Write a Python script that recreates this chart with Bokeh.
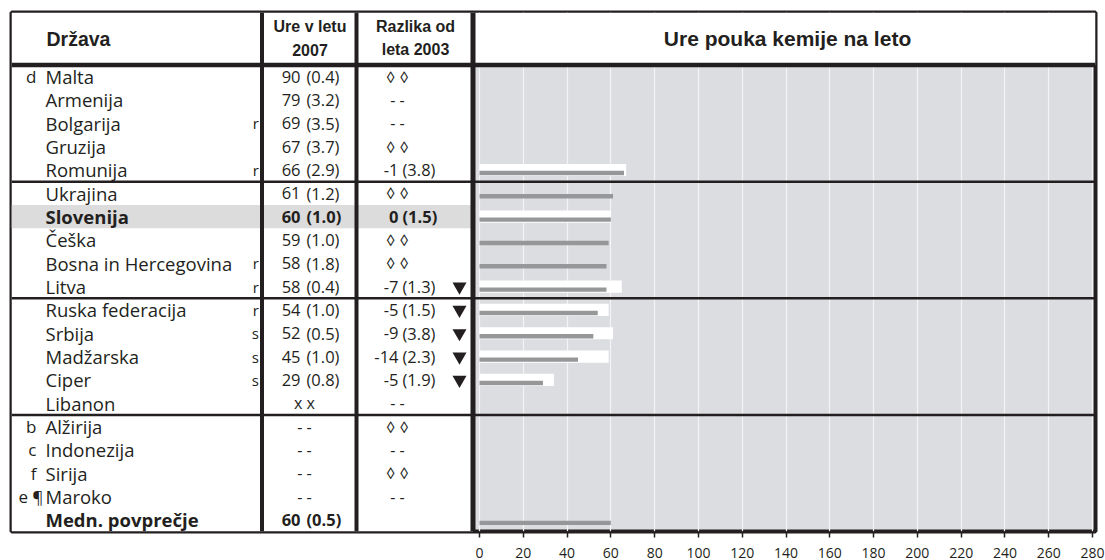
from bokeh.plotting import figure
from bokeh.models import Range1d, FixedTicker, ColumnDataSource
from bokeh.core.properties import value, field
from bokeh.embed import file_html
from bokeh.resources import INLINE

# ---------------- data ----------------
countries = ["Malta", "Armenija", "Bolgarija", "Gruzija", "Romunija",
             "Ukrajina", "Slovenija", "Češka", "Bosna in Hercegovina", "Litva",
             "Ruska federacija", "Srbija", "Madžarska", "Ciper", "Libanon",
             "Alžirija", "Indonezija", "Sirija", "Maroko", "Medn. povprečje"]
footnotes = ["d", "", "", "", "", "", "", "", "", "", "", "", "", "", "",
             "b", "c", "f", "e ¶", ""]
flags = ["", "", "r", "", "r", "", "", "", "r", "r", "r", "s", "s", "s", "",
         "", "", "", "", ""]
hours_2007 = [90, 79, 69, 67, 66, 61, 60, 59, 58, 58, 54, 52, 45, 29, None,
              None, None, None, None, 60]
hours_se = [0.4, 3.2, 3.5, 3.7, 2.9, 1.2, 1.0, 1.0, 1.8, 0.4, 1.0, 0.5, 1.0, 0.8, None,
            None, None, None, None, 0.5]
hours_missing = ["", "", "", "", "", "", "", "", "", "", "", "", "", "", "x x",
                 "- -", "- -", "- -", "- -", ""]
diff_2003 = [None, None, None, None, -1, None, 0, None, None, -7, -5, -9, -14, -5, None,
             None, None, None, None, None]
diff_se = [None, None, None, None, 3.8, None, 1.5, None, None, 1.3, 1.5, 3.8, 2.3, 1.9, None,
           None, None, None, None, None]
diff_symbol = ["◊ ◊", "- -", "- -", "◊ ◊", "", "◊ ◊", "", "◊ ◊", "◊ ◊", "", "", "", "", "", "- -",
               "◊ ◊", "- -", "◊ ◊", "- -", ""]
significant_drop = [False, False, False, False, False, False, False, False, False, True,
                    True, True, True, True, False, False, False, False, False, False]
bar_2007 = [None, None, None, None, 66, 61, 60, 59, 58, 58, 54, 52, 45, 29, None,
            None, None, None, None, 60]
bold_rows = ["Slovenija", "Medn. povprečje"]
highlight_row = "Slovenija"
group_breaks = [4.5, 9.5, 14.5]
x_ticks = [0, 20, 40, 60, 80, 100, 120, 140, 160, 180, 200, 220, 240, 260, 280]

header_country = "Država"
header_hours = ["Ure v letu", "2007"]
header_diff = ["Razlika od", "leta 2003"]
chart_title = "Ure pouka kemije na leto"

# ---------------- layout ----------------
W, H = 1105, 560
BL, BR, BT, BB = 11, 10, 12, 29
FRAME_W = W - BL - BR
FRAME_H = H - BT - BB
PAGE_LEFT = BL              # x of frame left
PAGE_TOP = BT               # y of frame top
ZERO_PX = 479               # x of value 0
END_PX = 1092               # x of value 280
S = (END_PX - ZERO_PX) / 280.0
X_START = (PAGE_LEFT - ZERO_PX) / S
X_END = (PAGE_LEFT + FRAME_W - ZERO_PX) / S

N = len(countries)
HEADER_PX = 52.5
ROW_H = (FRAME_H - HEADER_PX) / N
Y_TOP = -0.5 - HEADER_PX / ROW_H
Y_BOT = N - 0.5


def px(x):
    return (x - ZERO_PX) / S


def py(y):
    return Y_TOP + (y - PAGE_TOP) / ROW_H


INK = "#231f20"
PANEL = "#dcdde0"
BODY_FONT = value("Open Sans")
HEAD_FONT = value("Liberation Sans")

p = figure(width=W, height=H, output_backend="svg", toolbar_location=None,
           x_range=Range1d(X_START, X_END), y_range=Range1d(Y_BOT, Y_TOP),
           min_border_left=BL, min_border_right=BR, min_border_top=BT,
           min_border_bottom=BB, y_axis_location=None)
p.background_fill_color = PANEL
p.border_fill_color = "white"
p.outline_line_color = INK
p.outline_line_width = 4
p.ygrid.visible = False
p.xgrid.ticker = FixedTicker(ticks=x_ticks)
p.xgrid.grid_line_color = "#f4f4f5"
p.xgrid.grid_line_width = 1.2

ax = p.xaxis[0]
ax.ticker = FixedTicker(ticks=x_ticks)
ax.axis_line_color = None
ax.major_tick_in = 0
ax.major_tick_out = 6
ax.major_tick_line_color = INK
ax.major_tick_line_width = 1.5
ax.minor_tick_line_color = None
ax.major_label_text_font = "Open Sans"
ax.major_label_text_font_size = "14px"
ax.major_label_text_color = INK
ax.major_label_text_line_height = 0.6
ax.major_label_standoff = 10

DIV_CHART = 472.5
rows = list(range(N))

# white areas (header strip and table)
p.quad(left=[X_START, X_START], right=[X_END, px(DIV_CHART)],
       bottom=[-0.5, Y_BOT], top=[Y_TOP, -0.5], fill_color="white", line_color=None)
# highlighted row
hi = countries.index(highlight_row)
p.quad(left=[X_START], right=[px(DIV_CHART)], bottom=[hi + 0.5], top=[hi - 0.5],
       fill_color="#dcdcdd", line_color=None)

# bars
w_y, w_v, g_y, g_v = [], [], [], []
for i in rows:
    if bar_2007[i] is not None:
        g_y.append(i + 0.13)
        g_v.append(bar_2007[i])
        if diff_2003[i] is not None:
            w_y.append(i)
            w_v.append(hours_2007[i] - diff_2003[i])
p.hbar(y=w_y, left=0, right=w_v, height=0.52, fill_color="white", line_color=None)
p.hbar(y=g_y, left=0, right=g_v, height=0.19, fill_color="#969799", line_color=None)

# lines
p.segment(x0=[X_START] * len(group_breaks), x1=[X_END] * len(group_breaks),
          y0=group_breaks, y1=group_breaks, line_color=INK, line_width=2.5)
p.segment(x0=[X_START], x1=[X_END], y0=[-0.5], y1=[-0.5], line_color=INK, line_width=4.5)
p.segment(x0=[px(261.5), px(356)], x1=[px(261.5), px(356)], y0=[Y_TOP, Y_TOP],
          y1=[Y_BOT, Y_BOT], line_color=INK, line_width=4)
p.segment(x0=[px(DIV_CHART)], x1=[px(DIV_CHART)], y0=[Y_TOP], y1=[Y_BOT],
          line_color=INK, line_width=5)

# headers
p.text(x=[px(46)], y=[py(38)], text=[header_country], text_font=HEAD_FONT,
       text_font_style="bold", text_font_size="19.5px", text_color=INK,
       text_baseline="middle", text_align="left")
p.text(x=[px(309.5)], y=[py(26)], text=header_hours[:1],
       text_font=HEAD_FONT, text_font_style="bold", text_font_size="16px",
       text_color=INK, text_baseline="middle", text_align="center")
p.text(x=[px(309.5)], y=[py(49)], text=header_hours[1:],
       text_font=HEAD_FONT, text_font_style="bold", text_font_size="16px",
       text_color=INK, text_baseline="middle", text_align="center")
p.text(x=[px(415)], y=[py(26)], text=header_diff[:1],
       text_font=HEAD_FONT, text_font_style="bold", text_font_size="16px",
       text_color=INK, text_baseline="middle", text_align="center")
p.text(x=[px(415)], y=[py(49)], text=header_diff[1:],
       text_font=HEAD_FONT, text_font_style="bold", text_font_size="16px",
       text_color=INK, text_baseline="middle", text_align="center")
p.text(x=[px(787)], y=[py(38)], text=[chart_title], text_font=HEAD_FONT,
       text_font_style="bold", text_font_size="21px", text_color=INK,
       text_baseline="middle", text_align="center")

styles = ["bold" if c in bold_rows else "normal" for c in countries]

# country names
src = ColumnDataSource(dict(y=rows, t=countries, s=styles))
p.text(x=px(45), y="y", text="t", source=src, text_font=BODY_FONT,
       text_font_style=field("s"), text_font_size="18.5px", text_color=INK,
       text_baseline="middle", text_align="left")

# footnotes
fy, ft, fx = [], [], []
for i in rows:
    if footnotes[i]:
        fy.append(i)
        ft.append(footnotes[i])
        fx.append(px(43) if "¶" in footnotes[i] else px(36))
p.text(x=fx, y=fy, text=ft, text_font=BODY_FONT, text_font_size="17px",
       text_color=INK, text_baseline="middle", text_align="right")

# r / s flags
sy = [i for i in rows if flags[i]]
p.text(x=px(258.5), y=sy, text=[flags[i] for i in sy], text_font=BODY_FONT,
       text_font_size="15px", text_color=INK, text_baseline="middle", text_align="right")

# hours column
hy = [i for i in rows if hours_2007[i] is not None]
hsrc = ColumnDataSource(dict(y=hy, v=[str(hours_2007[i]) for i in hy],
                             se=["(%.1f)" % hours_se[i] for i in hy],
                             s=[styles[i] for i in hy]))
p.text(x=px(300), y="y", text="v", source=hsrc, text_font=BODY_FONT,
       text_font_style=field("s"), text_font_size="16.5px", text_color=INK,
       text_baseline="middle", text_align="right")
p.text(x=px(306), y="y", text="se", source=hsrc, text_font=BODY_FONT,
       text_font_style=field("s"), text_font_size="16.5px", text_color=INK,
       text_baseline="middle", text_align="left")
my = [i for i in rows if hours_missing[i]]
p.text(x=px(304), y=my, text=[hours_missing[i] for i in my], text_font=BODY_FONT,
       text_font_size="16px", text_color=INK, text_baseline="middle", text_align="center")

# difference column
dy = [i for i in rows if diff_2003[i] is not None]
dsrc = ColumnDataSource(dict(y=dy, v=[str(diff_2003[i]) for i in dy],
                             se=["(%.1f)" % diff_se[i] for i in dy],
                             s=[styles[i] for i in dy]))
p.text(x=px(398), y="y", text="v", source=dsrc, text_font=BODY_FONT,
       text_font_style=field("s"), text_font_size="16.5px", text_color=INK,
       text_baseline="middle", text_align="right")
p.text(x=px(402), y="y", text="se", source=dsrc, text_font=BODY_FONT,
       text_font_style=field("s"), text_font_size="16.5px", text_color=INK,
       text_baseline="middle", text_align="left")
ky = [i for i in rows if diff_symbol[i]]
p.text(x=px(397), y=ky, text=[diff_symbol[i] for i in ky], text_font=BODY_FONT,
       text_font_size="16px", text_color=INK, text_baseline="middle", text_align="center")

# significance triangles
ty = [i for i in rows if significant_drop[i]]
p.scatter(x=px(459), y=ty, marker="inverted_triangle", size=14,
          fill_color=INK, line_color=None)

open("out.html", "w").write(file_html(p, INLINE))
